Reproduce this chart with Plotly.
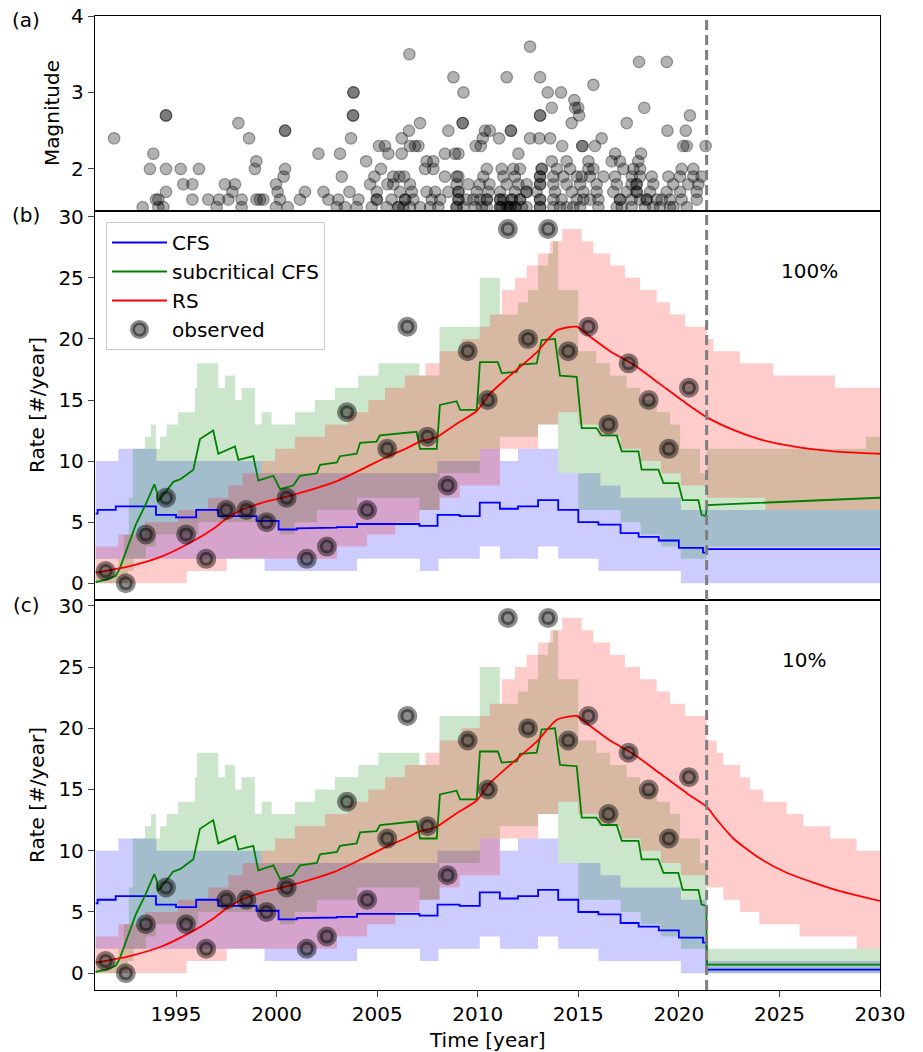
import plotly.graph_objects as go

# ---------------- data ----------------
T_SPLIT = 2021.38
T_END = 2030.0
X_RANGE = [1990.97, 2030.0]

# observed annual counts (plotted mid-year)
OBS_YEARS = list(range(1991, 2021))
OBS_COUNTS = [1, 0, 4, 7, 4, 2, 6, 6, 5, 7, 2, 3, 14, 6, 11, 21, 12, 8, 19, 15,
              29, 20, 29, 19, 21, 13, 18, 15, 11, 16]

# catalogue: event times grouped by magnitude
EQ_M36 = [2012.6]
EQ_M35 = [2006.6]
EQ_M34 = [2018.02, 2019.4]
EQ_M32 = [2008.79, 2011.44, 2013.1]
EQ_M31 = [2015.75]
EQ_M30 = [2003.82, 2003.82, 2009.29, 2013.48, 2014.14]
EQ_M29 = [2014.8]
EQ_M28 = [2013.68, 2014.84, 2015.0, 2018.28]
EQ_M27 = [1994.5, 1994.5, 2003.8, 2003.8, 2013.1, 2013.1, 2015.04, 2020.55]
EQ_M26 = [1998.1, 2007.13, 2009.25, 2009.25, 2014.67, 2017.41]
EQ_M25 = [2000.42, 2000.42, 2006.58, 2008.54, 2010.36, 2010.6, 2011.65, 2011.65,
          2019.43, 2020.34]
EQ_M24 = [1991.92, 1998.63, 2003.7, 2006.22, 2010.25, 2011.06, 2012.6, 2013.06,
          2013.6, 2016.16]
EQ_M23 = [2005.09, 2005.39, 2006.63, 2006.88, 2007.05, 2009.9, 2010.15, 2014.2,
          2015.2, 2015.2, 2015.83, 2020.22, 2020.39, 2021.33]
EQ_M22 = [1993.87, 2002.08, 2003.15, 2005.56, 2006.22, 2008.37, 2008.87, 2009.04,
          2012.02, 2016.83, 2018.12]
EQ_M21 = [1998.99, 2004.45, 2007.46, 2007.79, 2013.68, 2014.42, 2015.5, 2016.66,
          2017.07, 2017.98]
EQ_M20 = [1993.7, 1994.5, 1995.23, 1996.14, 1998.92, 2000.42, 2005.19, 2007.38,
          2007.79, 2010.45, 2011.19, 2011.77, 2012.1, 2013.18, 2013.18, 2013.93,
          2014.59, 2015.5, 2015.75, 2017.24, 2017.74, 2018.07, 2020.14, 2020.72]
EQ_M19 = [2000.35, 2003.24, 2004.86, 2005.8, 2006.1, 2006.34, 2008.37, 2008.95,
          2009.04, 2010.28, 2011.27, 2011.85, 2013.1, 2013.1, 2013.76, 2014.26,
          2014.92, 2015.17, 2015.58, 2016.25, 2016.83, 2017.66, 2018.07, 2018.65,
          2019.48, 2020.06, 2020.72, 2021.13]
EQ_M18 = [1995.36, 1995.81, 1997.43, 1997.93, 1999.97, 2004.65, 2005.51, 2005.8,
          2006.63, 2008.95, 2009.53, 2010.1, 2010.58, 2011.44, 2012.02, 2012.43,
          2013.1, 2013.1, 2013.76, 2014.42, 2015.09, 2015.91, 2016.91, 2017.65,
          2017.9, 2017.9, 2018.73, 2019.72, 2020.47, 2020.97]
EQ_M17 = [1994.5, 1997.8, 2000.05, 2001.41, 2002.33, 2003.62, 2004.98, 2006.14,
          2006.72, 2007.46, 2007.88, 2008.54, 2009.04, 2009.04, 2009.95, 2010.53,
          2011.11, 2011.85, 2012.43, 2012.43, 2012.93, 2013.84, 2014.67, 2015.25,
          2015.91, 2016.74, 2017.41, 2017.9, 2017.9, 2018.57, 2019.39, 2020.06,
          2020.89]
EQ_M16 = [1994.0, 1994.12, 1995.81, 1996.6, 1997.14, 1997.6, 1998.26, 1999.0,
          1999.17, 1999.34, 2000.17, 2001.16, 2002.57, 2003.07, 2004.07, 2004.98,
          2004.98, 2005.72, 2006.39, 2006.39, 2006.8, 2007.71, 2008.13, 2009.04,
          2009.04, 2009.45, 2009.78, 2010.11, 2010.45, 2010.45, 2011.11, 2011.11,
          2011.27, 2011.69, 2011.69, 2012.1, 2012.1, 2013.1, 2013.1, 2013.76,
          2014.17, 2014.92, 2015.25, 2015.58, 2016.0, 2017.07, 2017.07, 2017.65,
          2018.07, 2018.4, 2018.4, 2018.9, 2019.15, 2019.56, 2020.14, 2020.89]
EQ_M15 = [1993.34, 1994.12, 1994.37, 1997.02, 1998.26, 1999.97, 2000.55, 2002.99,
          2003.4, 2003.98, 2004.73, 2005.47, 2006.05, 2006.05, 2006.3, 2006.63,
          2007.13, 2007.63, 2008.04, 2008.95, 2008.95, 2009.29, 2009.87, 2010.2,
          2010.45, 2011.11, 2011.11, 2011.19, 2011.44, 2011.52, 2011.61, 2011.61,
          2011.85, 2011.85, 2012.19, 2012.43, 2013.1, 2013.1, 2013.76, 2014.09,
          2014.42, 2014.75, 2015.09, 2016.0, 2016.91, 2017.16, 2017.65, 2018.32,
          2018.73, 2019.06, 2019.56, 2019.73, 2020.39]
EQ_BY_MAG = {3.6: EQ_M36, 3.5: EQ_M35, 3.4: EQ_M34, 3.2: EQ_M32, 3.1: EQ_M31,
             3.0: EQ_M30, 2.9: EQ_M29, 2.8: EQ_M28, 2.7: EQ_M27, 2.6: EQ_M26,
             2.5: EQ_M25, 2.4: EQ_M24, 2.3: EQ_M23, 2.2: EQ_M22, 2.1: EQ_M21,
             2.0: EQ_M20, 1.9: EQ_M19, 1.8: EQ_M18, 1.7: EQ_M17, 1.6: EQ_M16,
             1.5: EQ_M15}

# ---- model lines (before shut-in) ----
CFS_T = [1991.0, 1991.1, 1992.0, 1994.0, 1995.0, 1996.0, 1997.1, 1999.0, 2000.1,
         2001.0, 2002.0, 2003.0, 2004.0, 2007.1, 2008.0, 2009.1, 2010.1, 2011.1,
         2012.0, 2013.0, 2014.0, 2015.0, 2016.0, 2017.1, 2018.0, 2019.0, 2020.0,
         2021.2]
CFS_V = [5.7, 6.0, 6.3, 5.6, 5.4, 6.0, 5.5, 5.1, 4.4, 4.5, 4.55, 4.6, 4.85, 4.7,
         5.6, 5.5, 6.6, 6.1, 6.3, 6.8, 6.0, 5.0, 4.8, 4.1, 3.8, 3.5, 2.9, 2.5]
CFS_POST_B = 2.8
CFS_POST_C = 0.3

SUB_T = [1991.0, 1991.5, 1992.0, 1992.2, 1992.6, 1993.0, 1993.5, 1993.92, 1994.05,
         1994.1, 1994.4, 1994.86, 1995.2, 1995.86, 1996.19, 1996.85, 1997.1,
         1997.93, 1998.1, 1998.84, 1999.09, 1999.84, 2000.17, 2000.83, 2001.16,
         2002.0, 2002.16, 2003.0, 2003.15, 2003.98, 2004.15, 2004.97, 2005.14,
         2006.96, 2007.13, 2007.96, 2008.12, 2008.95, 2009.12, 2009.95, 2010.11,
         2011.0, 2011.19, 2011.94, 2012.1, 2012.93, 2013.18, 2013.84, 2014.09,
         2014.92, 2015.17, 2015.9, 2016.16, 2016.91, 2017.16, 2017.99, 2018.15,
         2018.98, 2019.23, 2019.97, 2020.19, 2020.97, 2021.13, 2021.33]
SUB_V = [0.1, 0.3, 0.6, 1.2, 3.0, 4.8, 6.5, 8.1, 7.5, 6.7, 7.3, 8.3, 8.5, 9.3,
         11.8, 12.5, 10.6, 11.2, 10.1, 10.4, 8.4, 8.8, 7.7, 8.0, 8.8, 9.0, 9.7,
         9.9, 10.4, 10.6, 11.5, 11.6, 12.1, 12.4, 11.0, 11.0, 14.6, 14.9, 14.2,
         14.2, 18.1, 18.1, 17.2, 17.3, 17.9, 18.0, 19.9, 20.0, 17.0, 16.9, 12.7,
         12.7, 12.1, 12.1, 10.8, 10.8, 9.3, 9.3, 8.2, 8.2, 6.8, 6.8, 5.6, 5.5]
SUB_POST_B_T = [2021.42, 2023.0, 2030.0]
SUB_POST_B_V = [6.4, 6.5, 7.0]
SUB_POST_C_T = [2021.37, 2021.39, 2030.0]
SUB_POST_C_V = [5.5, 0.7, 0.7]

RS_T = [1991.0, 1992.6, 1994.3, 1995.9, 1996.8, 1997.6, 1998.4, 1999.3, 2000.3,
        2001.6, 2002.9, 2004.2, 2005.55, 2006.4, 2007.13, 2007.96, 2008.9,
        2009.95, 2010.6, 2011.6, 2012.93, 2013.93, 2014.92, 2015.42, 2016.58,
        2017.74, 2019.07, 2020.39, 2021.38]
RS_V = [0.87, 1.36, 2.2, 3.5, 4.4, 5.4, 6.1, 6.6, 7.0, 7.6, 8.3, 9.3, 10.4, 11.0,
        11.6, 11.96, 13.0, 14.1, 15.5, 17.0, 18.9, 20.7, 21.0, 20.4, 19.0, 17.9,
        16.3, 14.7, 13.6]
RS_POST_B_T = [2022.71, 2024.0, 2025.69, 2027.68, 2030.0]
RS_POST_B_V = [12.55, 11.8, 11.2, 10.8, 10.6]
RS_POST_C_T = [2021.88, 2022.71, 2024.0, 2025.36, 2026.69, 2028.01, 2030.0]
RS_POST_C_V = [12.55, 11.0, 9.4, 8.2, 7.4, 6.7, 5.9]

# ---- uncertainty bands (step functions: value holds from t_i to t_i+1) ----
CFS_UP_T = [1991.0, 1992.13, 1994.03, 1999.26, 2008.0, 2010.1, 2011.1, 2012.0,
            2014.0, 2016.1, 2017.1, 2020.1]
CFS_UP_V = [10, 11, 10, 9, 10, 11, 10, 11, 9, 8, 7, 6]
CFS_LO_T = [1991.0, 1999.4, 2004.0, 2007.13, 2008.05, 2010.1, 2011.1, 2013.0,
            2014.0, 2016.0, 2020.1]
CFS_LO_V = [2, 1, 2, 1, 2, 3, 2, 3, 2, 1, 0]
CFS_UP_POST_B_T, CFS_UP_POST_B_V = [T_SPLIT], [6]
CFS_LO_POST_B_T, CFS_LO_POST_B_V = [T_SPLIT], [0]
CFS_UP_POST_C_T, CFS_UP_POST_C_V = [T_SPLIT], [1]
CFS_LO_POST_C_T, CFS_LO_POST_C_V = [T_SPLIT], [0]

SUB_UP_T = [1991.0, 1992.13, 1992.4, 1992.65, 1992.85, 1993.46, 1993.75, 1994.0,
            1994.2, 1994.53, 1995.1, 1995.94, 1996.05, 1997.1, 1997.43, 1997.93,
            1998.26, 1998.92, 1999.26, 1999.75, 2000.91, 2001.9, 2002.9, 2004.06,
            2005.06, 2007.1, 2008.1, 2010.1, 2011.1, 2012.0, 2012.5, 2013.0,
            2013.5, 2013.75, 2014.0, 2015.0, 2015.9, 2016.58, 2017.4, 2018.07,
            2018.9, 2019.56, 2020.06, 2021.05]
SUB_UP_V = [1, 2, 4, 7, 11, 12, 13, 11, 12, 13, 14, 16, 18, 16, 17, 15, 16, 13,
            14, 13, 14, 15, 16, 17, 18, 17, 21, 25, 22, 23, 24, 26, 27, 28, 24,
            19, 18, 17, 16, 15, 14, 13, 11, 9]
SUB_LO_T = [1991.0, 1992.6, 1992.9, 1993.5, 1994.0, 1996.1, 2000.17, 2000.9,
            2002.0, 2004.0, 2007.1, 2008.1, 2010.1, 2011.1, 2012.0, 2013.0,
            2014.0, 2015.0, 2017.1, 2018.1, 2019.1, 2020.1]
SUB_LO_V = [0, 1, 2, 3, 4, 5, 4, 5, 6, 7, 6, 9, 11, 12, 12, 13, 9, 6, 5, 4, 3, 2]
SUB_UP_POST_B_T, SUB_UP_POST_B_V = [T_SPLIT, 2029.3], [11, 12]
SUB_LO_POST_B_T, SUB_LO_POST_B_V = [T_SPLIT], [3]
SUB_UP_POST_C_T, SUB_UP_POST_C_V = [T_SPLIT], [2]
SUB_LO_POST_C_T, SUB_LO_POST_C_V = [T_SPLIT], [0]

RS_UP_T = [1991.0, 1992.13, 1993.46, 1995.1, 1996.6, 1997.6, 1998.3, 1999.26,
           1999.92, 2000.91, 2002.4, 2003.56, 2004.56, 2005.39, 2006.38, 2007.4,
           2008.1, 2009.2, 2010.1, 2010.6, 2011.2, 2011.85, 2012.43, 2013.0,
           2013.6, 2014.2, 2015.17, 2015.75, 2016.58, 2017.32, 2018.07, 2018.9,
           2019.56, 2020.31]
RS_UP_V = [3, 4, 5, 6, 7, 8, 9, 10, 11, 12, 13, 14, 15, 16, 17, 18, 19, 20, 21,
           22, 24, 25, 26, 27, 28, 29, 28, 27, 26, 25, 24, 23, 22, 21]
RS_LO_T = [1991.0, 1995.53, 1997.52, 2003.0, 2004.5, 2005.9, 2007.1, 2008.1,
           2009.1, 2011.1, 2013.0, 2014.0, 2015.0, 2016.0, 2017.1, 2018.1,
           2019.1, 2020.1]
RS_LO_V = [0, 1, 2, 3, 4, 5, 6, 7, 8, 11, 13, 14, 13, 12, 11, 10, 9, 8]
RS_UP_POST_B_T = [T_SPLIT, 2021.72, 2023.04, 2024.7, 2027.76]
RS_UP_POST_B_V = [20, 19, 18, 17, 16]
RS_LO_POST_B_T = [T_SPLIT, 2024.3]
RS_LO_POST_B_V = [7, 6]
RS_UP_POST_C_T = [T_SPLIT, 2021.88, 2022.21, 2023.04, 2023.54, 2024.2, 2025.36,
                  2026.19, 2027.52, 2028.84]
RS_UP_POST_C_V = [19, 18, 17, 16, 15, 14, 13, 12, 11, 10]
RS_LO_POST_C_T = [T_SPLIT, 2022.21, 2023.04, 2024.0, 2026.0, 2028.84]
RS_LO_POST_C_V = [7, 6, 5, 4, 3, 2]

PANEL_LABELS = ["100%", "10%"]

# ---------------- helpers ----------------
def steps(t, v, t_end):
    xs, ys = [], []
    for i in range(len(t)):
        tn = t[i + 1] if i + 1 < len(t) else t_end
        xs += [t[i], tn]
        ys += [v[i], v[i]]
    return xs, ys


def band(up_t, up_v, lo_t, lo_v):
    ux, uy = steps(up_t, up_v, T_END)
    lx, ly = steps(lo_t, lo_v, T_END)
    return ux + lx[::-1], uy + ly[::-1]


BLUE, GREEN, RED = "#0000ff", "#008000", "#ff0000"
FB, FG, FR = "rgba(0,0,255,0.2)", "rgba(0,128,0,0.2)", "rgba(255,0,0,0.2)"
FONT = "DejaVu Sans"

fig = go.Figure()

# ---- panel (a) ----
ex, ey = [], []
for m, ts in EQ_BY_MAG.items():
    ex += ts
    ey += [m] * len(ts)
fig.add_trace(go.Scatter(
    x=ex, y=ey, mode="markers", xaxis="x", yaxis="y", showlegend=False,
    marker=dict(size=11.5, color="rgba(0,0,0,0.3)",
                line=dict(width=1.2, color="rgba(0,0,0,0.35)"))))

# ---- panels (b) and (c) ----
POST = {
    "b": dict(cu=(CFS_UP_POST_B_T, CFS_UP_POST_B_V), cl=(CFS_LO_POST_B_T, CFS_LO_POST_B_V),
              su=(SUB_UP_POST_B_T, SUB_UP_POST_B_V), sl=(SUB_LO_POST_B_T, SUB_LO_POST_B_V),
              ru=(RS_UP_POST_B_T, RS_UP_POST_B_V), rl=(RS_LO_POST_B_T, RS_LO_POST_B_V),
              cfs=CFS_POST_B, sub=(SUB_POST_B_T, SUB_POST_B_V), rs=(RS_POST_B_T, RS_POST_B_V)),
    "c": dict(cu=(CFS_UP_POST_C_T, CFS_UP_POST_C_V), cl=(CFS_LO_POST_C_T, CFS_LO_POST_C_V),
              su=(SUB_UP_POST_C_T, SUB_UP_POST_C_V), sl=(SUB_LO_POST_C_T, SUB_LO_POST_C_V),
              ru=(RS_UP_POST_C_T, RS_UP_POST_C_V), rl=(RS_LO_POST_C_T, RS_LO_POST_C_V),
              cfs=CFS_POST_C, sub=(SUB_POST_C_T, SUB_POST_C_V), rs=(RS_POST_C_T, RS_POST_C_V)),
}
for xa, ya, key in [("x2", "y2", "b"), ("x3", "y3", "c")]:
    post = POST[key]
    show = key == "b"

    for (ut, uv, lt, lv, col) in [
        (CFS_UP_T, CFS_UP_V, CFS_LO_T, CFS_LO_V, "c"),
        (SUB_UP_T, SUB_UP_V, SUB_LO_T, SUB_LO_V, "s"),
        (RS_UP_T, RS_UP_V, RS_LO_T, RS_LO_V, "r"),
    ]:
        pu = post[col + "u"]
        pl = post[col + "l"]
        bx, by = band(ut + pu[0], uv + pu[1], lt + pl[0], lv + pl[1])
        fig.add_trace(go.Scatter(
            x=bx, y=by, xaxis=xa, yaxis=ya, mode="lines", fill="toself",
            fillcolor={"c": FB, "s": FG, "r": FR}[col], line=dict(width=0),
            showlegend=False, hoverinfo="skip"))

    obs_trace = go.Scatter(
        x=[y + 0.5 for y in OBS_YEARS], y=OBS_COUNTS, xaxis=xa, yaxis=ya,
        mode="markers", name="observed", showlegend=show,
        marker=dict(size=14, color="rgba(0,0,0,0.45)",
                    line=dict(width=6, color="rgba(0,0,0,0.45)")))

    cx, cy = steps(CFS_T + [T_SPLIT], CFS_V + [post["cfs"]], T_END)
    fig.add_trace(go.Scatter(x=cx, y=cy, xaxis=xa, yaxis=ya, mode="lines",
                             name="CFS", showlegend=show,
                             line=dict(color=BLUE, width=1.8)))
    fig.add_trace(go.Scatter(x=SUB_T + post["sub"][0], y=SUB_V + post["sub"][1],
                             xaxis=xa, yaxis=ya, mode="lines",
                             name="subcritical CFS", showlegend=show,
                             line=dict(color=GREEN, width=1.8)))
    fig.add_trace(go.Scatter(x=RS_T + post["rs"][0], y=RS_V + post["rs"][1],
                             xaxis=xa, yaxis=ya, mode="lines", name="RS",
                             showlegend=show,
                             line=dict(color=RED, width=1.8, shape="spline",
                                       smoothing=0.6)))
    fig.add_trace(obs_trace)

# ---------------- layout ----------------
H, W = 1052, 923
ML, MR, MT, MB = 95, 43, 16, 62
PH = H - MT - MB


def py(pix):
    return (H - MB - pix) / PH


axis_common = dict(showline=True, mirror=True, linecolor="black", linewidth=1.3,
                   showgrid=False, zeroline=False, automargin=False,
                   tickfont=dict(family=FONT, size=20, color="black"))

fig.update_layout(
    template="none",
    width=W, height=H, margin=dict(l=ML, r=MR, t=MT, b=MB),
    paper_bgcolor="white", plot_bgcolor="white",
    font=dict(family=FONT, size=20, color="black"),
    xaxis=dict(domain=[0, 1], anchor="y", range=X_RANGE, showticklabels=False,
               ticks="", **axis_common),
    xaxis2=dict(domain=[0, 1], anchor="y2", range=X_RANGE, matches="x",
                showticklabels=False, ticks="", **axis_common),
    xaxis3=dict(domain=[0, 1], anchor="y3", range=X_RANGE, matches="x",
                tickvals=[1995, 2000, 2005, 2010, 2015, 2020, 2025, 2030],
                ticks="outside", ticklen=6, tickwidth=1.3, **axis_common),
    yaxis=dict(domain=[py(211), 1], anchor="x", range=[1.45, 4.0],
               tickvals=[2, 3, 4], ticks="outside", ticklen=6, tickwidth=1.3,
               **axis_common),
    yaxis2=dict(domain=[py(600), py(211)], anchor="x2", range=[-1.37, 30.47],
                tickvals=[0, 5, 10, 15, 20, 25, 30], ticks="outside", ticklen=6,
                tickwidth=1.3, **axis_common),
    yaxis3=dict(domain=[0, py(600)], anchor="x3", range=[-1.37, 30.47],
                tickvals=[0, 5, 10, 15, 20, 25, 30], ticks="outside", ticklen=6,
                tickwidth=1.3, **axis_common),
    legend=dict(x=(106 - ML) / 785, y=py(222), xanchor="left", yanchor="top",
                bgcolor="rgba(255,255,255,0.8)", bordercolor="#cccccc",
                borderwidth=1, font=dict(family=FONT, size=20),
                itemwidth=55, tracegroupgap=0),
    showlegend=True,
)

fig.add_shape(type="line", xref="x", yref="paper", x0=T_SPLIT, x1=T_SPLIT,
              y0=0, y1=1, line=dict(color="#7f7f7f", width=3, dash="10px,5px"),
              layer="above")

ann = [
    dict(text="(a)", x=(26 - ML) / 785, y=py(20)),
    dict(text="(b)", x=(26 - ML) / 785, y=py(215)),
    dict(text="(c)", x=(26 - ML) / 785, y=py(605)),
    dict(text="Magnitude", x=(52 - ML) / 785, y=py(113), textangle=-90),
    dict(text="Rate [#/year]", x=(37 - ML) / 785, y=py(405), textangle=-90),
    dict(text="Rate [#/year]", x=(37 - ML) / 785, y=py(795), textangle=-90),
    dict(text="Time [year]", x=0.5, y=py(1040)),
]
for a in ann:
    fig.add_annotation(xref="paper", yref="paper", showarrow=False,
                       xanchor="center", yanchor="middle",
                       font=dict(family=FONT, size=20, color="black"), **a)
fig.add_annotation(xref="x2", yref="y2", x=2026.5, y=25.6, text=PANEL_LABELS[0],
                   showarrow=False, font=dict(family=FONT, size=20, color="black"))
fig.add_annotation(xref="x3", yref="y3", x=2026.2, y=25.6, text=PANEL_LABELS[1],
                   showarrow=False, font=dict(family=FONT, size=20, color="black"))

fig.write_html("out.html")
